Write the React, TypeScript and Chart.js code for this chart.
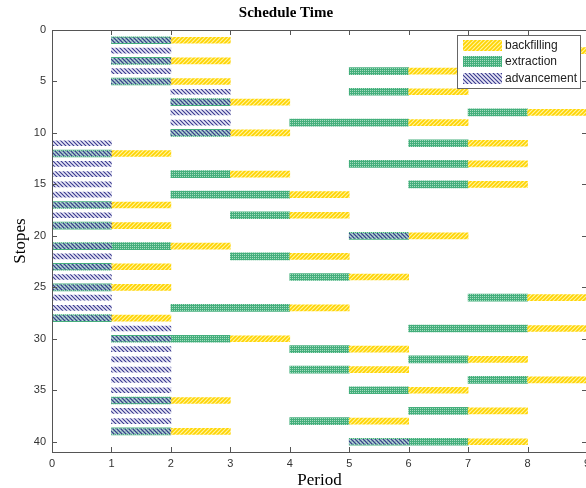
import React, { useEffect, useRef } from 'react';
import { Chart, registerables } from 'chart.js';

Chart.register(...registerables);

// [stope, startPeriod, endPeriod]
type Span = [number, number, number];

const seriesNames = ['backfilling', 'extraction', 'advancement'];

const backfilling: Span[] = [
  [1, 2, 3], [2, 8, 9], [3, 2, 3], [4, 6, 7], [5, 2, 3], [6, 6, 7], [7, 3, 4], [8, 8, 9], [9, 6, 7], [10, 3, 4],
  [11, 7, 8], [12, 1, 2], [13, 7, 8], [14, 3, 4], [15, 7, 8], [16, 4, 5], [17, 1, 2], [18, 4, 5], [19, 1, 2], [20, 6, 7],
  [21, 2, 3], [22, 4, 5], [23, 1, 2], [24, 5, 6], [25, 1, 2], [26, 8, 9], [27, 4, 5], [28, 1, 2], [29, 8, 9], [30, 3, 4],
  [31, 5, 6], [32, 7, 8], [33, 5, 6], [34, 8, 9], [35, 6, 7], [36, 2, 3], [37, 7, 8], [38, 5, 6], [39, 2, 3], [40, 7, 8],
];

const extraction: Span[] = [
  [1, 1, 2], [2, 7, 8], [3, 1, 2], [4, 5, 6], [5, 1, 2], [6, 5, 6], [7, 2, 3], [8, 7, 8], [9, 4, 6], [10, 2, 3],
  [11, 6, 7], [12, 0, 1], [13, 5, 7], [14, 2, 3], [15, 6, 7], [16, 2, 4], [17, 0, 1], [18, 3, 4], [19, 0, 1], [20, 5, 6],
  [21, 0, 2], [22, 3, 4], [23, 0, 1], [24, 4, 5], [25, 0, 1], [26, 7, 8], [27, 2, 4], [28, 0, 1], [29, 6, 8], [30, 1, 3],
  [31, 4, 5], [32, 6, 7], [33, 4, 5], [34, 7, 8], [35, 5, 6], [36, 1, 2], [37, 6, 7], [38, 4, 5], [39, 1, 2], [40, 5, 7],
];

const advancement: Span[] = [
  [1, 1, 2], [2, 1, 2], [3, 1, 2], [4, 1, 2], [5, 1, 2], [6, 2, 3], [7, 2, 3], [8, 2, 3], [9, 2, 3], [10, 2, 3],
  [11, 0, 1], [12, 0, 1], [13, 0, 1], [14, 0, 1], [15, 0, 1], [16, 0, 1], [17, 0, 1], [18, 0, 1], [19, 0, 1], [20, 5, 6],
  [21, 0, 1], [22, 0, 1], [23, 0, 1], [24, 0, 1], [25, 0, 1], [26, 0, 1], [27, 0, 1], [28, 0, 1], [29, 1, 2], [30, 1, 2],
  [31, 1, 2], [32, 1, 2], [33, 1, 2], [34, 1, 2], [35, 1, 2], [36, 1, 2], [37, 1, 2], [38, 1, 2], [39, 1, 2], [40, 5, 6],
];

const periodTicks = [0, 1, 2, 3, 4, 5, 6, 7, 8, 9];
const stopeTicks = [0, 5, 10, 15, 20, 25, 30, 35, 40];

const chartTitle = 'Schedule Time';
const xTitle = 'Period';
const yTitle = 'Stopes';

function stripePattern(bg: string, fg: string, dir: '/' | '\\', size: number, lw: number) {
  const c = document.createElement('canvas');
  c.width = size;
  c.height = size;
  const g = c.getContext('2d')!;
  g.fillStyle = bg;
  g.fillRect(0, 0, size, size);
  g.strokeStyle = fg;
  g.lineWidth = lw;
  g.beginPath();
  for (let k = -1; k <= 1; k++) {
    if (dir === '/') {
      g.moveTo(k * size - 1, size + 1);
      g.lineTo(k * size + size + 1, -1);
    } else {
      g.moveTo(k * size - 1, -1);
      g.lineTo(k * size + size + 1, size + 1);
    }
  }
  g.stroke();
  return g.createPattern(c, 'repeat')!;
}

function dotPattern(bg: string, fg: string) {
  const c = document.createElement('canvas');
  c.width = 4;
  c.height = 4;
  const g = c.getContext('2d')!;
  g.fillStyle = bg;
  g.fillRect(0, 0, 4, 4);
  g.fillStyle = fg;
  g.fillRect(0, 0, 1, 1);
  g.fillRect(2, 2, 1, 1);
  g.fillRect(2, 0, 1, 1);
  g.fillRect(0, 2, 1, 1);
  return g.createPattern(c, 'repeat')!;
}

const framePlugin = {
  id: 'frame',
  afterDraw(chart: any) {
    const { ctx, chartArea: a, scales } = chart;
    const xs = scales.x;
    const ys = scales.y;
    ctx.save();
    ctx.strokeStyle = '#555';
    ctx.lineWidth = 1;
    ctx.strokeRect(Math.round(a.left) + 0.5, Math.round(a.top) + 0.5, Math.round(a.right - a.left), Math.round(a.bottom - a.top));
    ctx.beginPath();
    const tl = 5;
    for (const v of periodTicks) {
      const px = Math.round(xs.getPixelForValue(v)) + 0.5;
      ctx.moveTo(px, a.bottom);
      ctx.lineTo(px, a.bottom - tl);
      ctx.moveTo(px, a.top);
      ctx.lineTo(px, a.top + tl);
    }
    for (const v of stopeTicks) {
      const py = Math.round(ys.getPixelForValue(v)) + 0.5;
      ctx.moveTo(a.left, py);
      ctx.lineTo(a.left + tl, py);
      ctx.moveTo(a.right, py);
      ctx.lineTo(a.right - tl, py);
    }
    ctx.stroke();

    ctx.fillStyle = '#000';
    ctx.font = 'bold 15px "Liberation Serif", "Times New Roman", serif';
    ctx.textAlign = 'center';
    ctx.textBaseline = 'middle';
    ctx.fillText(chartTitle, 286, 13);

    const lx = Math.round(a.right) - 130;
    const ly = Math.round(a.top) + 5;
    const lw = 123;
    const lh = 53;
    ctx.fillStyle = '#fff';
    ctx.fillRect(lx, ly, lw, lh);
    ctx.strokeStyle = '#666';
    ctx.strokeRect(lx + 0.5, ly + 0.5, lw, lh);
    ctx.font = '12px "Liberation Sans", Arial, sans-serif';
    ctx.textAlign = 'left';
    ctx.textBaseline = 'middle';
    seriesNames.forEach((name, i) => {
      const ds = chart.data.datasets.find((d: any) => d.label === name);
      const cy = ly + 10 + i * 16.5;
      ctx.fillStyle = ds.backgroundColor;
      ctx.fillRect(lx + 6, Math.round(cy - 5.5), 39, 11);
      ctx.fillStyle = '#222';
      ctx.fillText(name, lx + 48, cy + 0.5);
    });
    ctx.restore();
  },
};

export default function App() {
  const ref = useRef<HTMLCanvasElement>(null);

  useEffect(() => {
    const canvas = ref.current!;
    const patBack = stripePattern('#FFF3A0', '#FFD400', '/', 4, 1.6);
    const patExt = dotPattern('#44AF7C', '#A6DCC0');
    const patAdv = stripePattern('rgba(215,215,240,0.6)', 'rgba(45,45,135,0.95)', '\\', 4, 1.1);

    const toData = (arr: Span[]) => arr.map(([s, a, b]) => ({ y: s, x: [a, b] }));

    const chart = new Chart(canvas, {
      type: 'bar',
      data: {
        datasets: [
          { label: 'backfilling', data: toData(backfilling) as any, backgroundColor: patBack as any, barThickness: 6, order: 1, grouped: false, borderWidth: 0 } as any,
          { label: 'extraction', data: toData(extraction) as any, backgroundColor: patExt as any, barThickness: 7, order: 2, grouped: false, borderWidth: 0 } as any,
          { label: 'advancement', data: toData(advancement) as any, backgroundColor: patAdv as any, barThickness: 5, order: 0, grouped: false, borderWidth: 0 } as any,
        ],
      },
      options: {
        indexAxis: 'y',
        animation: false,
        responsive: false,
        devicePixelRatio: 1,
        layout: { padding: { top: 30, right: 3, left: 0, bottom: 0 } },
        plugins: {
          legend: { display: false },
          title: { display: false },
          tooltip: { enabled: false },
        },
        scales: {
          x: {
            type: 'linear',
            position: 'bottom',
            min: 0,
            max: 9,
            offset: false,
            grid: { display: false, drawTicks: false, offset: false },
            border: { display: false },
            afterBuildTicks: (s: any) => {
              s.ticks = periodTicks.map((v) => ({ value: v }));
            },
            ticks: {
              padding: 5,
              autoSkip: false,
              color: '#333',
              font: { family: '"Liberation Sans", Arial, sans-serif', size: 11 },
            },
            title: {
              display: true,
              text: xTitle,
              color: '#000',
              padding: { top: 0, bottom: -3 },
              font: { family: '"Liberation Serif", "Times New Roman", serif', size: 17 },
            },
            afterFit: (s: any) => {
              s.height = 36;
              s.paddingLeft = 0;
              s.paddingRight = 0;
            },
          },
          y: {
            type: 'linear',
            reverse: true,
            min: 0,
            max: 41,
            offset: false,
            grid: { display: false, drawTicks: false, offset: false },
            border: { display: false },
            afterBuildTicks: (s: any) => {
              s.ticks = stopeTicks.map((v) => ({ value: v }));
            },
            ticks: {
              padding: 6,
              autoSkip: false,
              color: '#333',
              font: { family: '"Liberation Sans", Arial, sans-serif', size: 11 },
            },
            title: {
              display: true,
              text: yTitle,
              color: '#000',
              padding: { top: 10, bottom: 0 },
              font: { family: '"Liberation Serif", "Times New Roman", serif', size: 17 },
            },
            afterFit: (s: any) => {
              s.width = 52;
              s.paddingTop = 0;
              s.paddingBottom = 0;
            },
          },
        },
      } as any,
      plugins: [framePlugin],
    });
    return () => chart.destroy();
  }, []);

  return (
    <div style={{ position: 'fixed', left: 0, top: 0, width: 586, height: 488, overflow: 'hidden', background: '#fff' }}>
      <canvas ref={ref} width={590} height={488} style={{ display: 'block', width: 590, height: 488 }} />
    </div>
  );
}
